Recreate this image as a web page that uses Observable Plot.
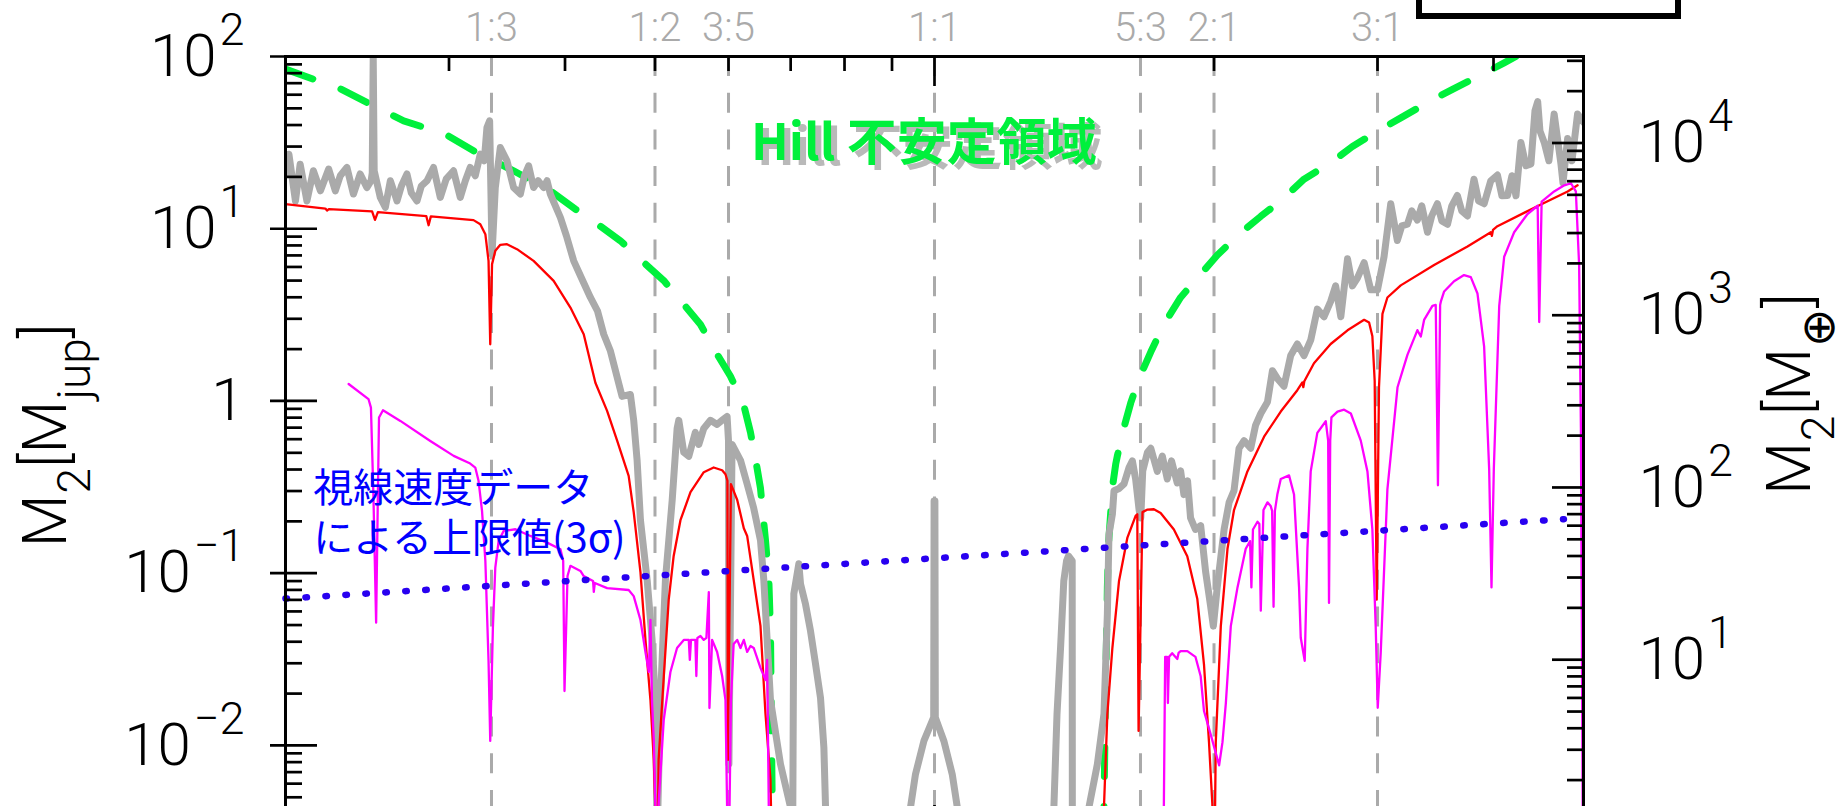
<!DOCTYPE html>
<html><head><meta charset="utf-8">
<script src="https://cdn.jsdelivr.net/npm/d3@7"></script>
<script src="https://cdn.jsdelivr.net/npm/@observablehq/plot@0.6"></script>
<style>
html,body{margin:0;padding:0;background:#fff;overflow:hidden;width:1845px;height:806px;}
#wrap{position:relative;width:1845px;height:806px;overflow:hidden;background:#fff;}
#legendBox{position:absolute;left:1416px;top:-50px;width:253px;height:57px;border:6px solid #000;}
</style></head>
<body><div id="wrap"><div id="chart"></div><div id="legendBox"></div></div>
<script>
// ---------------- data (period ratio P/P_b, mass in M_jup) ----------------
const xDomain = [0.2, 5];
const yDomain = [0.003, 100];
const MJUP_IN_MEARTH = 317.83;

const resRatio = [1/3, 1/2, 3/5, 1, 5/3, 2, 3];
const resLabel = ["1:3", "1:2", "3:5", "1:1", "5:3", "2:1", "3:1"];

const xMinorTicks = [0.3, 0.4, 0.5, 0.6, 0.7, 0.8, 0.9, 2, 3, 4];
const xMajorTicks = [1];
const leftTickVal = [100, 10, 1, 0.1, 0.01];
const leftTickLbl = ["10^{2}", "10^{1}", "1", "10^{−1}", "10^{−2}"];
const rightTickVal = [10000, 1000, 100, 10];           // Earth masses
const rightTickLbl = ["10^{4}", "10^{3}", "10^{2}", "10^{1}"];

// gray: TTV-based limit (thick gray)
const grayRatio = [
0.2000,0.2017,0.2050,0.2074,0.2109,0.2143,0.2181,0.2226,0.2263,0.2291,
0.2329,0.2367,0.2407,0.2447,0.2473,0.2480,0.2486,0.2492,0.2530,0.2562,
0.2594,0.2637,0.2666,0.2703,0.2732,0.2771,0.2801,0.2841,0.2887,0.2936,
0.2980,0.3034,0.3085,0.3124,0.3162,0.3202,0.3242,0.3274,0.3296,0.3318,
0.3338,0.3365,0.3407,0.3464,0.3521,0.3581,0.3617,0.3655,0.3700,0.3742,
0.3794,0.3826,0.3857,0.3955,0.4014,0.4087,0.4156,0.4260,0.4335,0.4403,
0.4477,0.4551,0.4608,0.4704,0.4743,0.4783,0.4823,0.4904,0.4964,0.5004,
0.5028,0.5068,0.5131,0.5218,0.5282,0.5304,0.5370,0.5437,0.5526,0.5574,
0.5643,0.5737,0.5833,0.5906,0.5979,0.6000,0.6006,0.6053,0.6181,0.6284,
0.6387,0.6495,0.6549,0.6658,0.6825,0.6996,0.7032,null,
0.7035,0.7055,0.7143,0.7173,0.7263,0.7353,0.7445,0.7538,0.7601,0.7632,0.7670,null,
0.9377,0.9424,0.9539,0.9741,0.998,0.999,1.001,1.002,1.0235,1.0450,1.058,1.0613,null,
1.341,1.3446,1.355,1.367,1.378,1.3875,1.394,1.407,1.4075,1.408,null,
1.462,1.467,1.4976,1.5224,1.5352,1.5414,1.5545,1.5607,1.5786,1.600,
1.620,1.6335,1.6467,1.661,1.668,1.676,1.6959,1.710,1.7376,1.7594,
1.7812,1.800,1.8256,1.841,1.856,1.873,1.887,1.910,1.935,1.959,
1.9836,1.9967,2.016,2.0507,2.0763,2.1017,2.128,2.1545,2.1906,2.2174,
2.246,2.2835,2.3118,2.340,2.379,2.419,2.459,2.500,2.542,2.584,
2.627,2.671,2.704,2.739,2.785,2.819,2.854,2.902,2.950,3.000,
3.049,3.100,3.151,3.186,3.231,3.266,3.312,3.348,3.396,3.432,
3.480,3.519,3.569,3.607,3.657,3.697,3.750,3.811,3.854,3.908,
3.973,4.039,4.084,4.142,4.187,4.229,4.281,4.335,4.389,4.433,
4.463,4.488,4.536,4.589,4.649,4.691,4.728,4.752,4.807,4.859,4.927,5.0];
const grayMass = [
20.8,27.1,14.5,23.7,14.5,21.7,16.6,22.2,16.6,20.3,
22.7,15.9,20.8,17.35,19.0,21.1,100,21.7,15.2,13.3,
19.0,14.5,17.7,20.8,16.2,14.5,17.7,19.0,22.7,15.2,
19.5,21.7,15.2,19.0,22.7,20.3,27.1,24.8,38.7,42.3,
7.12,17.35,29.6,24.8,17.35,15.9,20.3,23.2,17.35,19.0,
17.35,19.0,15.9,11.6,9.09,6.51,5.33,3.99,3.34,2.44,
1.95,1.38,1.063,1.091,0.772,0.4525,0.203,0.0912,0.0410,0.01835,
0.003,0.01835,0.0912,0.266,0.693,0.772,0.503,0.477,0.657,0.559,
0.693,0.772,0.731,0.772,0.814,0.586,0.0078,0.559,0.4525,0.329,
0.2385,0.1555,0.0912,0.01835,0.00781,0.0044,0.003,null,
0.003,0.0758,0.1134,0.0867,0.0660,0.0462,0.0297,0.01885,0.00971,0.0044,0.003,null,
0.003,0.0044,0.0068,0.01062,0.01455,0.263,0.263,0.01455,0.01062,0.0068,0.0044,0.003,null,
0.003,0.0044,0.0152,0.0369,0.0902,0.118,0.126,0.118,0.0044,0.003,null,
0.003,0.0044,0.00778,0.01522,0.0578,0.1684,0.220,0.301,0.309,0.330,
0.4106,0.449,0.352,0.2326,0.2095,0.393,0.504,0.531,0.390,0.479,
0.352,0.449,0.334,0.393,0.286,0.344,0.2095,0.1794,0.1888,0.1016,
0.0638,0.0493,0.0827,0.1794,0.2577,0.3014,0.531,0.5885,0.531,0.7243,
0.846,0.9867,1.498,1.352,1.2174,1.834,2.142,1.834,2.255,3.414,
3.082,3.785,4.658,3.082,6.686,4.658,5.17,6.356,4.42,4.42,
6.875,13.97,8.55,10.38,10.62,12.7,11.23,13.58,9.54,11.88,
13.97,11.1,10.62,13.58,15.59,12.7,11.86,19.4,14.52,13.97,
18.97,20.5,15.53,15.59,20.3,15.53,31.7,23.2,23.8,48.4,
54.7,37.0,31.7,24.8,46.4,32.4,23.8,18.47,33.4,24.8,46.4,41.6];

// red
const redRatio = [
0.2000,0.2208,0.2217,0.2227,0.2479,0.2497,0.2515,0.2836,0.2852,0.2868,
0.3188,0.3242,0.3283,0.3309,0.3323,0.3338,0.3365,0.3407,0.3464,0.3551,
0.3700,0.3889,0.4054,0.4190,0.4313,0.4440,0.4551,0.4684,0.4743,0.4823,
0.4883,0.4944,0.4985,0.5004,0.5016,0.5035,0.5045,0.5110,0.5173,0.5237,
0.5326,0.5460,0.5643,0.5783,0.5906,0.5955,0.5984,0.5991,0.6036,0.6131,
0.6232,0.6284,0.6387,0.6495,0.6576,0.6658,0.6675,null,
1.5176,1.5224,1.5352,1.5545,1.5803,1.6135,1.6467,1.6535,1.6588,1.675,
1.696,1.723,1.752,1.8106,1.8717,1.919,1.951,1.9753,1.9917,1.9957,
2.0039,2.0088,2.034,2.068,2.1017,2.1727,2.2644,2.360,2.459,2.490,
2.496,2.502,2.5626,2.671,2.785,2.902,2.938,2.962,2.979,2.994,
3.011,3.037,3.0745,3.178,3.452,3.750,3.973,3.984,3.995,4.039,
4.425,4.807,4.927];
const redMass = [
13.89,13.1,12.75,13.0,12.6,11.26,12.5,11.83,10.48,11.8,
11.22,10.62,9.30,6.51,2.134,6.23,7.44,8.07,8.13,7.61,
6.51,4.98,3.484,2.44,1.275,0.876,0.590,0.3676,0.226,0.1015,
0.0410,0.01835,0.00824,0.0044,0.003,0.003,0.00824,0.0250,0.0700,0.1259,
0.2031,0.2954,0.3857,0.411,0.396,0.3756,0.344,0.00824,0.3288,0.2662,
0.1824,0.1646,0.0912,0.0494,0.01528,0.00633,0.003,null,
0.003,0.0044,0.01522,0.0369,0.0902,0.161,0.2151,0.220,0.01214,0.2263,
0.2342,0.2351,0.2239,0.1794,0.1253,0.0708,0.02943,0.01045,0.00457,0.003,
0.003,0.01045,0.0493,0.1386,0.2326,0.390,0.620,0.868,1.155,1.2805,
1.203,1.302,1.656,2.142,2.573,2.958,2.851,2.376,1.31,0.0702,
1.201,3.204,3.987,4.69,6.163,7.886,9.54,9.09,9.85,10.34,
13.24,16.47,17.87];

// magenta
const magRatio = [
0.2339,0.2457,0.2472,0.2487,0.2504,0.2515,0.2522,0.2547,0.2659,0.2864,
0.3035,0.3162,0.3202,0.3228,0.3256,0.3283,0.3309,0.3323,0.3345,0.3365,
0.3393,0.3435,0.3537,0.3671,0.3826,0.3955,0.3982,0.3995,0.4025,0.4054,
0.4156,0.4190,0.4288,0.4296,0.4307,0.4440,0.4684,0.4743,0.4823,0.4883,
0.4924,0.4944,0.4963,0.4985,0.5004,0.5016,0.5035,0.5045,0.5110,0.5195,
0.5281,0.5370,0.5437,0.5451,0.5467,0.5526,0.5540,0.5554,0.5597,0.5643,
0.5680,0.5714,0.5723,0.5761,0.5833,0.5906,0.5955,0.5979,0.5990,0.6010,
0.6036,0.6077,0.6131,0.6181,0.6232,0.6284,0.6336,0.6387,0.6495,0.6576,
0.6603,0.6630,0.6640,null,
1.765,1.7718,1.7804,1.7839,1.7892,1.8028,1.826,1.832,1.841,1.872,
1.910,1.935,1.951,1.9836,2.0255,2.0425,2.0594,2.085,2.120,2.1637,
2.187,2.1943,2.2028,2.2276,2.238,2.246,2.261,2.2835,2.302,2.310,
2.3183,2.326,2.340,2.360,2.409,2.439,2.4696,2.480,2.5046,2.5214,
2.542,2.584,2.6386,2.6545,2.660,2.668,2.676,2.7165,2.7615,2.808,
2.878,2.926,2.962,2.9865,3.0016,3.024,3.0745,3.1526,3.231,3.312,
3.340,3.3674,3.4375,3.466,3.485,3.504,3.510,3.539,3.627,3.718,
3.781,3.844,3.908,3.957,3.980,4.003,4.057,4.107,4.210,4.352,
4.463,4.480,4.507,4.649,4.767,4.847,4.906,4.946,4.968,4.99,4.995];
const magMass = [
1.254,1.026,0.9145,0.2892,0.0516,0.289,0.801,0.8832,0.766,0.586,
0.480,0.433,0.4106,0.344,0.230,0.118,0.0310,0.01062,0.0483,0.1079,
0.154,0.176,0.180,0.1646,0.1505,0.1378,0.118,0.0207,0.0964,0.1104,
0.1031,0.0962,0.0902,0.0779,0.0878,0.0819,0.0799,0.0736,0.0535,0.0349,
0.0267,0.0536,0.0181,0.0108,0.00459,0.003,0.003,0.00459,0.0141,0.0267,
0.0368,0.0410,0.0410,0.0314,0.0410,0.0410,0.0253,0.0421,0.0432,0.0410,
0.0421,0.0776,0.01648,0.0410,0.0349,0.0253,0.01835,0.0044,0.003,0.003,
0.0181,0.0388,0.0410,0.0368,0.0410,0.0349,0.0378,0.0368,0.0282,0.0240,
0.0314,0.0044,0.003,null,
0.003,0.0327,0.0327,0.01762,0.0327,0.0343,0.0318,0.0345,0.0353,0.0353,
0.0327,0.0252,0.01584,0.0116,0.00767,0.01045,0.0175,0.0493,0.0827,0.1386,
0.1536,0.0827,0.1794,0.1989,0.193,0.0606,0.2326,0.2578,0.2453,0.230,
0.0638,0.230,0.2861,0.352,0.370,0.2861,0.0827,0.0422,0.0310,0.1386,
0.390,0.653,0.763,0.586,0.0672,0.586,0.803,0.868,0.890,0.846,
0.5885,0.390,0.1794,0.0493,0.01655,0.03456,0.3067,1.201,1.851,2.576,
2.369,2.954,3.568,3.61,0.324,3.61,3.769,4.325,4.954,5.382,
5.24,4.206,2.066,0.4024,0.0827,0.403,3.568,6.875,9.54,12.18,
13.6,2.874,14.37,16.47,17.87,18.37,16.47,6.171,0.695,0.0044,0.003];

// Hill-unstable boundary (green dashed)
const hillRatio = [
0.200,0.2291,0.2681,0.2973,0.3188,0.3521,0.3857,0.4104,0.4313,0.4589,
0.4841,0.511,0.5366,0.5597,0.5784,0.6029,0.6227,0.6336,0.6421,0.6495,
0.6576,0.6631,0.6658,0.6675,0.6692,null,
1.5213,1.5224,1.529,1.5337,1.5352,1.5404,1.5476,1.5545,1.5673,1.5737,
1.5937,1.6268,1.661,1.710,1.766,1.841,1.919,2.017,2.120,2.246,
2.360,2.500,2.671,2.819,3.011,3.178,3.409,3.613,3.876,4.107,4.228];
const hillMass = [
84.5,64.9,42.3,35.4,28.35,21.7,16.6,13.0,10.85,8.51,
6.51,5.0,3.66,2.78,2.012,1.392,0.9607,0.6566,0.449,0.3116,
0.1555,0.0912,0.0462,0.01166,0.003,null,
0.003,0.0044,0.0237,0.058,0.0827,0.154,0.220,0.3146,0.4297,0.479,
0.652,0.9736,1.351,1.929,2.78,3.992,5.17,7.04,9.12,11.8,
14.52,19.4,24.15,30.0,37.3,44.0,54.7,64.4,78.0,91.9,100];

// radial-velocity 3-sigma upper limit (blue dotted)
const rvRatio = [0.2, 4.763];
const rvMass = [0.0712, 0.2059];

// annotations
const hillLabel = ["Hill 不安定領域"], hillLabelRatio = [0.974], hillLabelMass = [30.9];
const rvLabel = ["視線速度データ\nによる上限値(3σ)"], rvLabelRatio = [0.2142], rvLabelMass = [0.230];
const yTitleLeft = ["M_{2}[M_{jup}]"];
const yTitleRight = ["M_{2}[M_{⊕}]"];

// ---------------- helpers ----------------
function toSeries(rs, ms) {
  const out = []; let seg = 0;
  rs.forEach((r, i) => {
    if (r == null || ms[i] == null) { seg++; return; }
    out.push({r, m: ms[i], seg});
  });
  return out;
}
const gray = toSeries(grayRatio, grayMass);
const red = toSeries(redRatio, redMass);
const mag = toSeries(magRatio, magMass);
const hill = toSeries(hillRatio, hillMass);
const rv = toSeries(rvRatio, rvMass);

const W = 1845, H = 870, mL = 285, mR = 262, mT = 56, mB = 35;
const frameW = W - mL - mR, frameH = H - mT - mB;
const FONT = "Roboto, 'DejaVu Sans', sans-serif";
const JP = "'Noto Sans CJK JP', 'Noto Sans', sans-serif";
const GREEN = "#00f03c";

const rightMinor = [1, 10, 100, 1000].flatMap(d => [2,3,4,5,6,7,8,9].map(k => k * d)).concat([20000, 30000]);
const leftMinor = [0.001, 0.01, 0.1, 1, 10].flatMap(d => [2,3,4,5,6,7,8,9].map(k => k * d)).filter(v => v >= 0.003);

const tickStyle = {stroke: "#000", strokeWidth: 2.7};

const chart = Plot.plot({
  width: W, height: H,
  marginTop: mT, marginRight: mR, marginBottom: mB, marginLeft: mL,
  x: {type: "log", domain: xDomain, axis: null},
  y: {type: "log", domain: yDomain, axis: null},
  style: {fontFamily: FONT, background: "#ffffff", overflow: "visible"},
  marks: [
    Plot.ruleX(resRatio, {stroke: "#aaaaaa", strokeWidth: 3, strokeDasharray: "20,16.7"}),
    Plot.line(hill, {x: "r", y: "m", z: "seg", stroke: GREEN, strokeWidth: 7, strokeDasharray: "29,30", strokeLinecap: "round", clip: true}),
    Plot.line(gray, {x: "r", y: "m", z: "seg", stroke: "#aaaaaa", strokeWidth: 7, strokeLinejoin: "round", clip: true}),
    Plot.line(red, {x: "r", y: "m", z: "seg", stroke: "#ff0000", strokeWidth: 2.3, clip: true}),
    Plot.line(mag, {x: "r", y: "m", z: "seg", stroke: "#ff00ff", strokeWidth: 2.3, clip: true}),
    Plot.line(rv, {x: "r", y: "m", stroke: "#2800f0", strokeWidth: 6.5, strokeDasharray: "1.5,18.5", strokeLinecap: "round"}),

    // annotations
    Plot.text(hillLabel, {x: (d, i) => hillLabelRatio[i], y: (d, i) => hillLabelMass[i], dx: 6, dy: 5,
      fontSize: 50, fontWeight: "bold", fontFamily: JP, fill: "#b9b9b9", textAnchor: "middle", lineAnchor: "middle"}),
    Plot.text(hillLabel, {x: (d, i) => hillLabelRatio[i], y: (d, i) => hillLabelMass[i],
      fontSize: 50, fontWeight: "bold", fontFamily: JP, fill: GREEN, textAnchor: "middle", lineAnchor: "middle"}),
    Plot.text(rvLabel, {x: (d, i) => rvLabelRatio[i], y: (d, i) => rvLabelMass[i],
      fontSize: 40, fontFamily: JP, fill: "#0000ff", textAnchor: "start", lineAnchor: "middle", lineHeight: 1.26}),

    // resonance labels
    Plot.text(resLabel, {x: (d, i) => resRatio[i], frameAnchor: "top", dy: -16, lineAnchor: "bottom",
      fontSize: 40, fontWeight: 300, fill: "#aaaaaa"}),

    // frame + ticks
    Plot.frame({stroke: "#000", strokeWidth: 3}),
    Plot.ruleY(leftTickVal, {...tickStyle, insetLeft: -15, insetRight: frameW - 32}),
    Plot.ruleY(leftMinor, {...tickStyle, insetRight: frameW - 17}),
    Plot.ruleY(rightTickVal.map(v => v / MJUP_IN_MEARTH), {...tickStyle, insetLeft: frameW - 31}),
    Plot.ruleY(rightMinor.map(v => v / MJUP_IN_MEARTH), {...tickStyle, insetLeft: frameW - 16}),
    Plot.ruleX(xMinorTicks, {...tickStyle, insetBottom: frameH - 15}),
    Plot.ruleX(xMajorTicks, {...tickStyle, insetBottom: frameH - 30}),
    Plot.ruleX(xMinorTicks, {...tickStyle, insetTop: frameH - 15}),
    Plot.ruleX(xMajorTicks, {...tickStyle, insetTop: frameH - 30}),

    // tick labels
    Plot.text(leftTickVal, {y: d => d, text: (d, i) => leftTickLbl[i], frameAnchor: "left", textAnchor: "end",
      dx: -41, fontSize: 60, fontWeight: 300, lineAnchor: "middle", fill: "#000"}),
    Plot.text(rightTickVal, {y: d => d / MJUP_IN_MEARTH, text: (d, i) => rightTickLbl[i], frameAnchor: "right",
      textAnchor: "start", dx: 55, fontSize: 60, fontWeight: 300, lineAnchor: "middle", fill: "#000"}),

    // axis titles
    Plot.text(yTitleLeft, {frameAnchor: "left", rotate: -90, dx: -220, dy: -10.5, textAnchor: "middle",
      lineAnchor: "bottom", fontSize: 61, fontWeight: 300, fill: "#000"}),
    Plot.text(yTitleRight, {frameAnchor: "right", rotate: -90, dx: 226, dy: -52, textAnchor: "middle",
      lineAnchor: "bottom", fontSize: 61, fontWeight: 300, fill: "#000"})
  ]
});
document.getElementById("chart").appendChild(chart);

// rich text: ^{..} superscript, _{..} subscript (applied to every label that uses the markup)
const supOpts = {shift: 31, size: 45, gap: 3};
const subOpts = {shift: 24, size: 46, gap: 1};
chart.querySelectorAll("text").forEach(node => {
  const s = node.textContent;
  if (!/[\^_]\{/.test(s)) return;
  while (node.firstChild) node.removeChild(node.firstChild);
  const re = /([\^_])\{([^}]*)\}/g;
  let last = 0, m; const parts = [];
  while ((m = re.exec(s))) {
    if (m.index > last) parts.push({t: s.slice(last, m.index), k: "n"});
    parts.push({t: m[2], k: m[1] === "^" ? "sup" : "sub"});
    last = re.lastIndex;
  }
  if (last < s.length) parts.push({t: s.slice(last), k: "n"});
  let cur = 0;
  for (const p of parts) {
    const target = p.k === "sup" ? -supOpts.shift : p.k === "sub" ? subOpts.shift : 0;
    const ts = document.createElementNS("http://www.w3.org/2000/svg", "tspan");
    ts.textContent = p.t;
    ts.setAttribute("dy", target - cur);
    if (p.k !== "n") {
      const o = p.k === "sup" ? supOpts : subOpts;
      ts.setAttribute("font-size", o.size);
      ts.setAttribute("dx", o.gap);
    }
    node.appendChild(ts);
    cur = target;
  }
});
</script>
</body></html>
